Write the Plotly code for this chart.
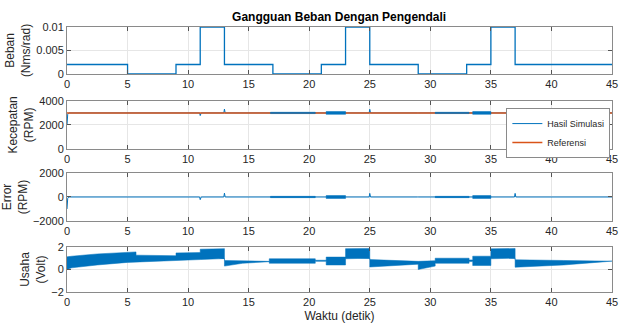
import plotly.graph_objects as go
from plotly.subplots import make_subplots

# ---- load disturbance (Nms/rad), piecewise constant ----
beban_t = [0, 5, 9, 11, 13, 17, 21, 23, 25, 29, 33, 35, 37, 45]
beban_v = [0.002, 0, 0.002, 0.01, 0.002, 0, 0.002, 0.01, 0.002, 0, 0.002, 0.01, 0.002, 0.002]

# ---- motor speed (RPM) ----
ref_speed = 3000
kec_t = [0, 0.06, 0.15, 8.95, 9.0, 9.05, 10.95, 11.0, 11.08, 12.95, 13.0, 13.06,
         24.95, 25.0, 25.06, 28.95, 29.0, 29.05, 36.95, 37.0, 37.06, 45]
kec_v = [2000, 2900, 3000, 3000, 2940, 3000, 3000, 2780, 3000, 3000, 3320, 3000,
         3000, 3300, 3000, 3000, 2970, 3000, 3000, 3300, 3000, 3000]

# chattering intervals of the speed response
noise_start = [16.8, 21.4, 30.4, 33.5]
noise_end = [20.5, 23.0, 33.2, 35.0]
noise_amp = [55, 120, 55, 120]

# ---- control effort (Volt): envelope of the switching signal ----
usaha_t = [0, 0.4, 2.5, 5.0, 5.7, 5.7, 7.8, 7.8, 9.0, 9.0, 11.0, 11.0, 13.0, 13.0, 14.5,
           16.7, 16.7, 20.5, 20.5, 21.4, 21.4, 23.0, 23.0, 25.0, 25.0, 29.0, 29.0,
           30.4, 30.4, 33.2, 33.2, 33.5, 33.5, 35.0, 35.0, 37.0, 37.0, 41.0, 45.0]
usaha_hi = [1.12, 1.18, 1.38, 1.55, 1.56, 1.27, 1.26, 1.22, 1.22, 1.47, 1.50, 1.80, 1.85,
            0.80, 0.75, 0.72, 0.95, 0.95, 0.82, 0.82, 1.10, 1.10, 1.85, 1.87, 0.88,
            0.74, 0.72, 0.78, 1.00, 1.00, 0.85, 0.85, 1.18, 1.18, 1.83, 1.86, 0.86,
            0.80, 0.76]
usaha_lo = [0.0, 0.15, 0.40, 0.63, 0.66, 0.66, 0.74, 0.74, 0.80, 0.80, 0.88, 0.88, 0.97,
            0.30, 0.55, 0.69, 0.55, 0.55, 0.72, 0.72, 0.40, 0.40, 0.95, 1.0, 0.22,
            0.47, 0.0, 0.30, 0.55, 0.55, 0.70, 0.70, 0.35, 0.35, 0.95, 1.0, 0.20,
            0.40, 0.74]

x_ticks = list(range(0, 46, 5))

BLUE = "#0072BD"
ORANGE = "#D95319"
TXT = "#262626"
FONT = "Liberation Sans, Arial, sans-serif"

fig = make_subplots(rows=4, cols=1)


def band_polygon(starts, ends, amps, center):
    xs, ys = [], []
    for s, e, a in zip(starts, ends, amps):
        xs += [s, e, e, s, s, None]
        ys += [center + a, center + a, center - a, center - a, center + a, None]
    return xs, ys


# Row 1: load
fig.add_trace(go.Scatter(x=beban_t, y=beban_v, mode="lines", line=dict(color=BLUE, width=1.3, shape="hv"),
                         showlegend=False), row=1, col=1)

# Row 2: speed
fig.add_trace(go.Scatter(x=kec_t, y=kec_v, mode="lines", line=dict(color=BLUE, width=1),
                         name="Hasil Simulasi"), row=2, col=1)
fig.add_trace(go.Scatter(x=[0, 45], y=[ref_speed, ref_speed], mode="lines",
                         line=dict(color=ORANGE, width=1.5), name="Referensi"), row=2, col=1)
nx, ny = band_polygon(noise_start, noise_end, noise_amp, ref_speed)
fig.add_trace(go.Scatter(x=nx, y=ny, mode="lines", fill="toself", fillcolor=BLUE,
                         line=dict(color=BLUE, width=0.5), showlegend=False), row=2, col=1)

# Row 3: error = simulated - reference
err_v = [v - ref_speed for v in kec_v]
fig.add_trace(go.Scatter(x=kec_t, y=err_v, mode="lines", line=dict(color=BLUE, width=1),
                         showlegend=False), row=3, col=1)
ex, ey = band_polygon(noise_start, noise_end, noise_amp, 0)
fig.add_trace(go.Scatter(x=ex, y=ey, mode="lines", fill="toself", fillcolor=BLUE,
                         line=dict(color=BLUE, width=0.5), showlegend=False), row=3, col=1)

# Row 4: control effort band
ux = usaha_t + usaha_t[::-1]
uy = usaha_hi + usaha_lo[::-1]
fig.add_trace(go.Scatter(x=ux, y=uy, mode="lines", fill="toself", fillcolor=BLUE,
                         line=dict(color=BLUE, width=0.5), showlegend=False), row=4, col=1)

# subplot placement
domains = [[0.823, 1.0], [0.540, 0.721], [0.268, 0.449], [0.0, 0.17]]
y_cfg = [
    dict(range=[0, 0.01], tickvals=[0, 0.005, 0.01], ticktext=["0", "0.005", "0.01"],
         title="Beban<br>(Nms/rad)"),
    dict(range=[0, 4000], tickvals=[0, 2000, 4000], title="Kecepatan<br>(RPM)"),
    dict(range=[-2000, 2000], tickvals=[-2000, 0, 2000], title="Error<br>(RPM)"),
    dict(range=[-2, 2], tickvals=[-2, 0, 2], title="Usaha<br>(Volt)"),
]

axis_common = dict(showline=True, linecolor="#8a8a8a", linewidth=1, mirror="ticks",
                   ticks="inside", ticklen=4, tickcolor="#555555", automargin=False,
                   showgrid=True, gridcolor="#e6e6e6", gridwidth=1, zeroline=False,
                   tickfont=dict(size=11, color=TXT, family=FONT))

for i in range(4):
    cfg = y_cfg[i]
    yk = "yaxis" if i == 0 else f"yaxis{i + 1}"
    xk = "xaxis" if i == 0 else f"xaxis{i + 1}"
    fig.layout[yk].update(domain=domains[i], range=cfg["range"], tickvals=cfg["tickvals"],
                          title=dict(text=cfg["title"], font=dict(size=12, color=TXT, family=FONT),
                                     standoff=3),
                          **axis_common)
    if "ticktext" in cfg:
        fig.layout[yk].ticktext = cfg["ticktext"]
    fig.layout[xk].update(range=[0, 45], tickvals=x_ticks, **axis_common)

fig.layout["xaxis4"].title = dict(text="Waktu (detik)", font=dict(size=12, color=TXT, family=FONT),
                                  standoff=4)

fig.update_layout(
    width=625, height=326,
    margin=dict(l=67, r=13, t=27, b=34),
    paper_bgcolor="white", plot_bgcolor="white",
    font=dict(family=FONT, color=TXT),
    title=dict(text="<b>Gangguan Beban Dengan Pengendali</b>", x=0.5425, xanchor="center",
               y=1 - 17 / 326, yanchor="middle", font=dict(size=12, color="#000000", family=FONT)),
    legend=dict(x=0.997, y=0.694, xanchor="right", yanchor="top", bgcolor="white",
                bordercolor="#8a8a8a", borderwidth=1, font=dict(size=9, color=TXT, family=FONT),
                tracegroupgap=0, itemwidth=30, traceorder="normal"),
)

fig.write_html("out.html")
